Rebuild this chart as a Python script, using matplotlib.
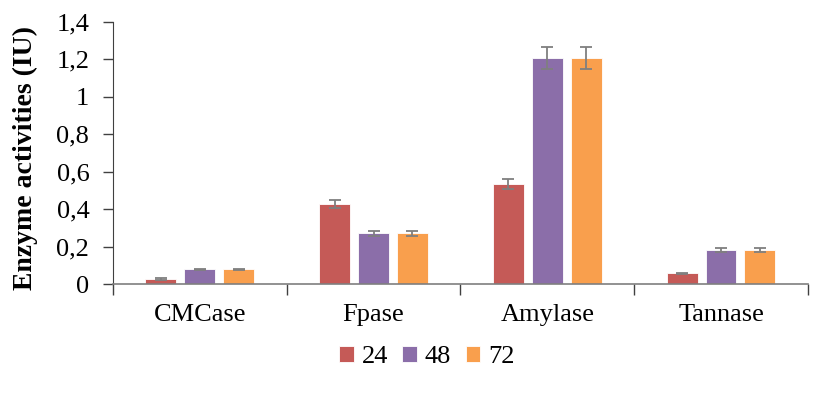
import numpy as np
import matplotlib.pyplot as plt

plt.rcParams['font.family'] = ['Liberation Serif', 'DejaVu Serif']

# datos
enzimas = ['CMCase', 'Fpase', 'Amylase', 'Tannase']
horas = ['24', '48', '72']
h24 = [0.027, 0.428, 0.536, 0.057]
h48 = [0.080, 0.271, 1.208, 0.182]
h72 = [0.080, 0.271, 1.208, 0.182]
err24 = [0.003, 0.022, 0.027, 0.003]
err48 = [0.003, 0.015, 0.060, 0.010]
err72 = [0.003, 0.015, 0.060, 0.010]
yticks = [0, 0.2, 0.4, 0.6, 0.8, 1.0, 1.2, 1.4]
ytick_labels = ['0', '0,2', '0,4', '0,6', '0,8', '1', '1,2', '1,4']

colores = ['#C55A57', '#8B6EA9', '#F99F4D']

fig = plt.figure(figsize=(8.21, 3.99), dpi=100)
ax = fig.add_axes([0.1376, 0.288, 0.8464, 0.657])

x = np.arange(len(enzimas))
ancho = 0.178
sep = 0.224
series = [(h24, err24), (h48, err48), (h72, err72)]
for i, (vals, errs) in enumerate(series):
    ax.bar(x + (i - 1) * sep, vals, ancho, yerr=errs, color=colores[i],
           edgecolor='white', linewidth=0.6, label=horas[i],
           error_kw=dict(ecolor='#7F7F7F', elinewidth=1.3, capsize=4, capthick=1.3))

ax.set_xlim(-0.5, len(enzimas) - 0.5)
ax.set_ylim(0, 1.4)
ax.set_yticks(yticks)
ax.set_yticklabels(ytick_labels)
ax.set_xticks(x)
ax.set_xticklabels(enzimas)
ax.tick_params(axis='x', length=0, pad=14, labelsize=19)
ax.tick_params(axis='y', length=7, width=1, colors='#404040', labelcolor='black',
               labelsize=19, pad=10)
# ticks entre categorias
ax.set_xticks(np.arange(-0.5, len(enzimas) + 0.5, 1), minor=True)
ax.tick_params(axis='x', which='minor', length=8, width=1, color='#404040')

for s in ['top', 'right']:
    ax.spines[s].set_visible(False)
ax.spines['left'].set_color('#404040')
ax.spines['bottom'].set_color('#7F7F7F')
ax.spines['bottom'].set_linewidth(1.2)

fig.text(0.031, 0.604, 'Enzyme activities (IU)', rotation=90, fontsize=20,
         fontweight='bold', ha='center', va='center')

fig.legend(loc='center', bbox_to_anchor=(0.52, 0.105), ncol=3, frameon=False,
           fontsize=19, handlelength=0.55, handleheight=0.55, handletextpad=0.3,
           columnspacing=0.55)

fig.savefig('out.png', dpi=100)
